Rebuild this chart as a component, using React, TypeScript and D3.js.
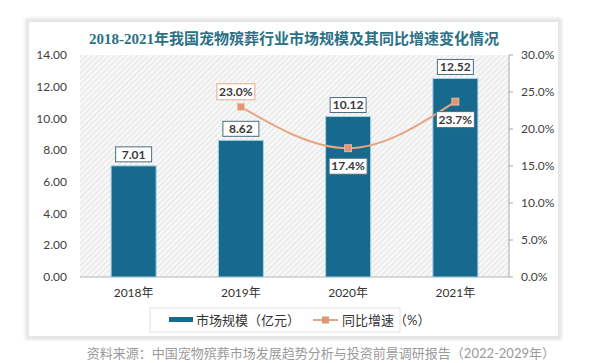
import React from "react";
import * as d3 from "d3";

const years = ["2018年", "2019年", "2020年", "2021年"];
const marketSize = [7.01, 8.62, 10.12, 12.52];
const growthYears = ["2019年", "2020年", "2021年"];
const growthRate = [23.0, 17.4, 23.7];
const leftTicks = [0, 2, 4, 6, 8, 10, 12, 14];
const rightTicks = [0, 5, 10, 15, 20, 25, 30];
const title = "2018-2021年我国宠物殡葬行业市场规模及其同比增速变化情况";
const legendBar = "市场规模（亿元）";
const legendLine = "同比增速（%）";
const source = "资料来源：中国宠物殡葬市场发展趋势分析与投资前景调研报告（2022-2029年）";

const W = 600;
const H = 363;
const plot = { left: 80, right: 509, top: 55, bottom: 277 };
const BAR = "#176a8d";
const LINE = "#e9a483";
const MARK = "#e39672";
const FONT = "Lato, 'Noto Sans CJK SC', sans-serif";

export default function App() {
  const x = d3.scaleBand().domain(years).range([plot.left, plot.right]).paddingInner(0.58).paddingOuter(0.29);
  const yL = d3.scaleLinear().domain([0, 14]).range([plot.bottom, plot.top]);
  const yR = d3.scaleLinear().domain([0, 30]).range([plot.bottom, plot.top]);
  const cx = (c: string) => (x(c) as number) + x.bandwidth() / 2;
  const pts: [number, number][] = growthYears.map((c, i) => [cx(c), yR(growthRate[i])]);
  const line = d3.line().curve(d3.curveMonotoneX)(pts) as string;
  const labelOffsets = [{ dx: -5, dy: -15, stroke: "#e8a886" }, { dx: 0, dy: 18, stroke: "#4d6d7a" }, { dx: 0, dy: 18, stroke: "#4d6d7a" }];

  return (
    <div style={{ position: "absolute", left: 0, top: 0 }}>
      <svg width={W} height={H} style={{ display: "block" }}>
        <defs>
          <pattern id="hatch" width="4" height="4" patternUnits="userSpaceOnUse" patternTransform="rotate(45)">
            <rect width="4" height="4" fill="#f7f7f7" />
            <line x1="0" y1="0" x2="0" y2="4" stroke="#e0e0e0" strokeWidth="1.5" />
          </pattern>
          <filter id="sh" x="-5%" y="-5%" width="110%" height="110%">
            <feGaussianBlur stdDeviation="1.5" />
          </filter>
        </defs>
        <rect width={W} height={H} fill="#fff" />
        <rect x={25} y={18} width={537} height={322} fill="#e6e6e6" filter="url(#sh)" />
        <rect x={29} y={22} width={529} height={314} fill="#fff" />
        <text x={294} y={44} textAnchor="middle" fontFamily="'Liberation Serif', 'Noto Sans CJK SC', serif" fontWeight="bold" fontSize={15} fill="#2b7186">{title}</text>
        <rect x={plot.left} y={plot.top} width={plot.right - plot.left} height={plot.bottom - plot.top} fill="url(#hatch)" />
        <line x1={plot.left} x2={plot.right} y1={plot.bottom} y2={plot.bottom} stroke="#b5b5b5" />
        <line x1={plot.right} x2={plot.right} y1={plot.top} y2={plot.bottom} stroke="#a8a8a8" />
        {leftTicks.map((t) => (
          <text key={"l" + t} x={67} y={yL(t)} dy="0.35em" textAnchor="end" fontFamily={FONT} fontSize={12} fill="#404040">{t.toFixed(2)}</text>
        ))}
        {rightTicks.map((t) => (
          <g key={"r" + t}>
            <line x1={plot.right} x2={plot.right + 4} y1={yR(t)} y2={yR(t)} stroke="#a8a8a8" />
            <text x={521} y={yR(t)} dy="0.35em" fontFamily={FONT} fontSize={12} fill="#404040">{t.toFixed(1) + "%"}</text>
          </g>
        ))}
        {years.map((c, i) => (
          <g key={c}>
            <rect x={x(c)} y={yL(marketSize[i])} width={x.bandwidth()} height={plot.bottom - yL(marketSize[i])} fill={BAR} stroke="#a9d3e3" strokeWidth={1} />
            <rect x={cx(c) - 18} y={yL(marketSize[i]) - 19} width={36} height={15} fill="#fff" stroke="#4d6d7a" strokeWidth={1} />
            <text x={cx(c)} y={yL(marketSize[i]) - 11.5} dy="0.35em" textAnchor="middle" fontFamily={FONT} fontWeight="bold" fontSize={12} fill="#3a3a3a">{marketSize[i].toFixed(2)}</text>
            <text x={cx(c)} y={293} dy="0.35em" textAnchor="middle" fontFamily={FONT} fontSize={12} fill="#333">{c}</text>
          </g>
        ))}
        <path d={line} fill="none" stroke={LINE} strokeWidth={2} />
        {pts.map(([px, py], i) => (
          <g key={"p" + i}>
            <rect x={px - 3.5} y={py - 3.5} width={7} height={7} fill={MARK} stroke="#f2c3ab" strokeWidth={0.8} />
            <rect x={px + labelOffsets[i].dx - 19} y={py + labelOffsets[i].dy - 8} width={38} height={16} fill="#fff" stroke={labelOffsets[i].stroke} strokeWidth={1} />
            <text x={px + labelOffsets[i].dx} y={py + labelOffsets[i].dy} dy="0.35em" textAnchor="middle" fontFamily={FONT} fontWeight="bold" fontSize={12} fill="#3a3a3a">{growthRate[i].toFixed(1) + "%"}</text>
          </g>
        ))}
        <rect x={150} y={308} width={250} height={24} fill="#fff" stroke="#e2e2e2" />
        <rect x={169} y={317} width={24} height={5} fill={BAR} />
        <text x={196} y={320} dy="0.35em" fontFamily={FONT} fontSize={13} fill="#333">{legendBar}</text>
        <line x1={313} x2={338} y1={320} y2={320} stroke={LINE} strokeWidth={2} />
        <rect x={322} y={316.5} width={7} height={7} fill={MARK} />
        <text x={342} y={320} dy="0.35em" fontFamily={FONT} fontSize={13} fill="#333">{legendLine}</text>
        <text x={555} y={353} dy="0.35em" textAnchor="end" fontFamily={FONT} fontSize={13} fill="#9a9a9a">{source}</text>
      </svg>
    </div>
  );
}
